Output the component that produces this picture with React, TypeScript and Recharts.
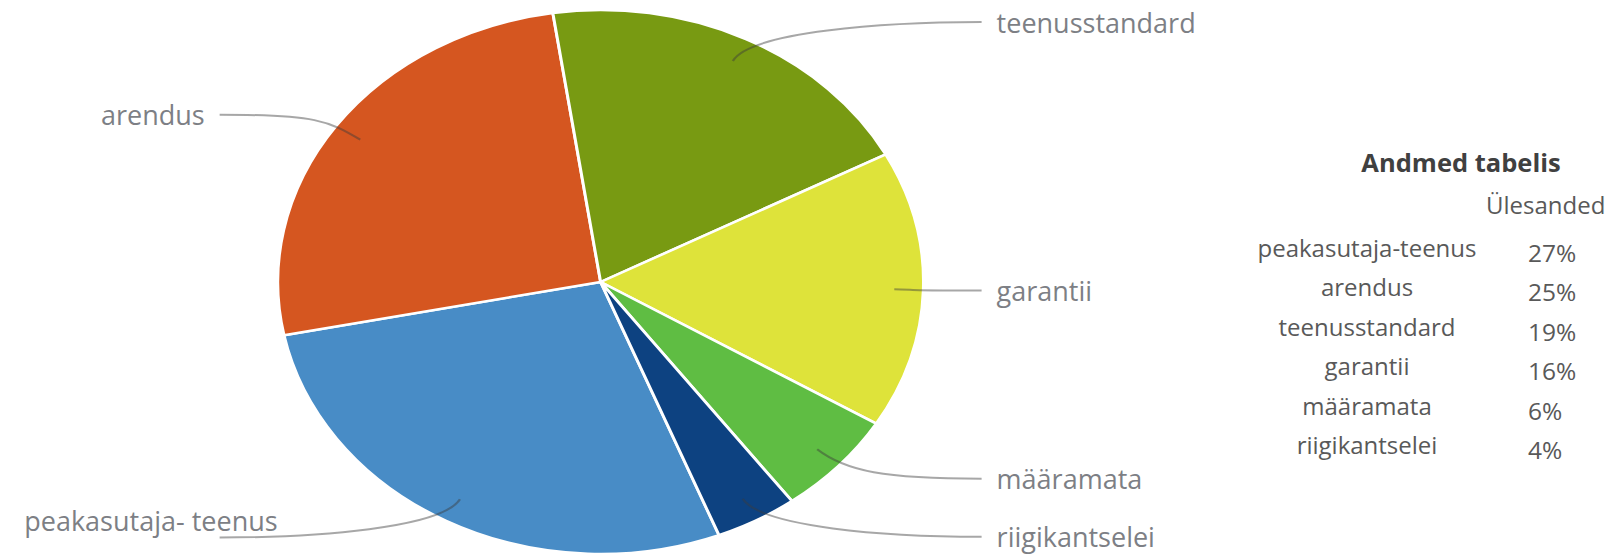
import { PieChart, Pie, Cell } from 'recharts';

const categories = ['peakasutaja-teenus', 'arendus', 'teenusstandard', 'garantii', 'määramata', 'riigikantselei'];
const pieLabels = ['peakasutaja- teenus', 'arendus', 'teenusstandard', 'garantii', 'määramata', 'riigikantselei'];
const shares = [27, 25, 19, 16, 6, 4];
const colors = ['#488cc6', '#d55620', '#789a12', '#dee33a', '#5fbd43', '#0d4281'];
const tableTitle = 'Andmed tabelis';
const columnTitle = 'Ülesanded';

const data = categories.map((name, i) => ({ name, value: shares[i] }));

// pie is drawn as a circle and stretched sideways to get the ellipse
const SX = 1.187;
const CX = 506;
const CY = 282;
const R = 272;
const RAD = Math.PI / 180;
const FONT = '"Open Sans", sans-serif';

// the big blue label sits off its leader line in the original
const nudge: Record<number, { dx: number; dy: number }> = { 0: { dx: 73, dy: -17 } };

function renderLabel(props: any) {
  const { cx, cy, midAngle, outerRadius, index } = props;
  const cos = Math.cos(-midAngle * RAD);
  const sin = Math.sin(-midAngle * RAD);
  const side = cos >= 0 ? 1 : -1;
  const x0 = cx + outerRadius * 0.91 * cos;
  const y0 = cy + outerRadius * 0.91 * sin;
  const c1x = cx + outerRadius * 1.03 * cos;
  const c1y = cy + outerRadius * 1.03 * sin;
  const ex = cx + side * outerRadius * 1.18;
  const ey = cy + outerRadius * 1.07 * sin;
  const c2x = ex - side * outerRadius * 0.3;
  const n = nudge[index] || { dx: 0, dy: 0 };
  return (
    <g key={`lbl-${index}`}>
      <path
        d={`M${x0},${y0} C${c1x},${c1y} ${c2x},${ey} ${ex},${ey}`}
        fill="none"
        stroke="rgba(60,60,60,0.45)"
        strokeWidth={2}
      />
      <g transform={`translate(${ex},${ey}) scale(${1 / SX},1)`}>
        <text
          x={side * 15 + n.dx}
          y={n.dy}
          textAnchor={side > 0 ? 'start' : 'end'}
          dominantBaseline="central"
          fontSize={27}
          fontFamily={FONT}
          fill="#7d7f85"
        >
          {pieLabels[index]}
        </text>
      </g>
    </g>
  );
}

export default function App() {
  const rowY = (i: number) => 248 + i * 39.4;
  return (
    <div
      style={{
        position: 'absolute',
        left: 0,
        top: 0,
        width: 1610,
        height: 559,
        overflow: 'hidden',
        background: '#fff',
        fontFamily: FONT,
      }}
    >
      <div style={{ position: 'absolute', left: 0, top: 0, transform: `scaleX(${SX})`, transformOrigin: '0 0' }}>
        <PieChart width={1356} height={559} margin={{ top: 0, right: 0, bottom: 0, left: 0 }}>
          <Pie
            data={data}
            dataKey="value"
            nameKey="name"
            cx={CX}
            cy={CY}
            outerRadius={R}
            startAngle={-68.5}
            endAngle={-428.5}
            stroke="#fff"
            strokeWidth={2.5}
            label={renderLabel}
            labelLine={false}
            isAnimationActive={false}
          >
            {data.map((d, i) => (
              <Cell key={d.name} fill={colors[i]} />
            ))}
          </Pie>
        </PieChart>
      </div>

      {/* table on the right */}
      <div
        style={{
          position: 'absolute', left: 1311, width: 300, top: 142, height: 40, lineHeight: '40px',
          textAlign: 'center', fontWeight: 700, fontSize: 25.5, color: '#404040', whiteSpace: 'nowrap',
        }}
      >
        {tableTitle}
      </div>
      <div
        style={{
          position: 'absolute', left: 1486, top: 185, height: 40, lineHeight: '40px',
          fontSize: 24, color: '#595959', whiteSpace: 'nowrap',
        }}
      >
        {columnTitle}
      </div>
      {categories.map((c, i) => (
        <div key={c}>
          <div
            style={{
              position: 'absolute', left: 1217, width: 300, top: rowY(i) - 20, height: 40, lineHeight: '40px',
              textAlign: 'center', fontSize: 24, color: '#595959', whiteSpace: 'nowrap',
            }}
          >
            {c}
          </div>
          <div
            style={{
              position: 'absolute', left: 1528, top: rowY(i) - 15, height: 40, lineHeight: '40px',
              fontSize: 24.5, color: '#595959', whiteSpace: 'nowrap',
            }}
          >
            {shares[i]}%
          </div>
        </div>
      ))}
    </div>
  );
}
